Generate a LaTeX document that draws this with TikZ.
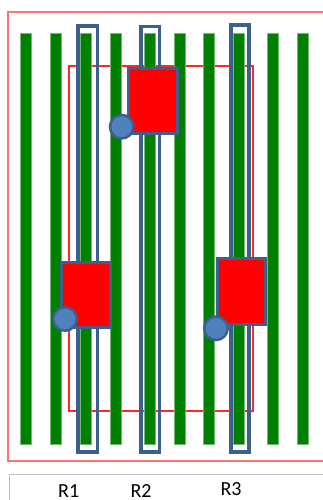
\documentclass[tikz,border=0pt]{standalone}
\usepackage{fontspec}
\setmainfont{Carlito}
\definecolor{barGreen}{RGB}{0,128,0}
\definecolor{frameBlue}{RGB}{60,95,140}
\definecolor{dotBlue}{RGB}{79,129,189}
\definecolor{frameRed}{RGB}{255,40,40}
\tikzset{
  bar/.style={fill=barGreen, draw=barGreen!55, line width=0.6pt},
  rowbox/.style={draw=frameBlue, line width=3.8pt},
  cell/.style={fill=red, draw=frameBlue, line width=3pt},
  pin/.style={circle, fill=dotBlue, draw=frameBlue, line width=2.5pt, minimum size=23.5pt, inner sep=0pt},
  rlabel/.style={anchor=base, font=\fontsize{20}{24}\selectfont}
}
\begin{document}
\begin{tikzpicture}[x=1pt, y=-1pt]
  \useasboundingbox (0,0) rectangle (323,500);
  \clip (0,0) rectangle (323,500);

  % outer and inner frames
  \draw[red!55, line width=1.5pt] (330,12) -- (8,12) -- (8,461) -- (330,461);
  \draw[frameRed, line width=1.1pt] (69,66) rectangle (253,411);

  % green bars
  \foreach \x in {26,56,86,116,150,180,209,239,273,303}
    \filldraw[bar] (\x-5.3,33) rectangle (\x+5.3,444);

  % rows R1, R2, R3
  \draw[rowbox] (77.9,25.9) rectangle (97.4,452.1);
  \draw[rowbox] (140.6,26.6) rectangle (159.4,452.1);
  \draw[rowbox] (230.6,24.9) rectangle (248.8,452.1);

  % red cells
  \filldraw[cell] (128.2,68.2) rectangle (177.5,133.5);
  \filldraw[cell] (61.5,262.5) rectangle (110.8,327.8);
  \filldraw[cell] (217.2,258.8) rectangle (265.8,324.2);

  % pins
  \node[pin] (pinA) at (121.7,126.7) {};
  \node[pin] (pinB) at (65,319) {};
  \node[pin] (pinC) at (216,328.3) {};

  % label strip
  \draw[gray!50, line width=1.2pt] (9.7,505) -- (9.7,474.3) -- (330,474.3);
  \node[rlabel] (r1) at (68.7,497.5) {R1};
  \node[rlabel] (r2) at (141,497.5) {R2};
  \node[rlabel] (r3) at (231,495.5) {R3};
\end{tikzpicture}
\end{document}
